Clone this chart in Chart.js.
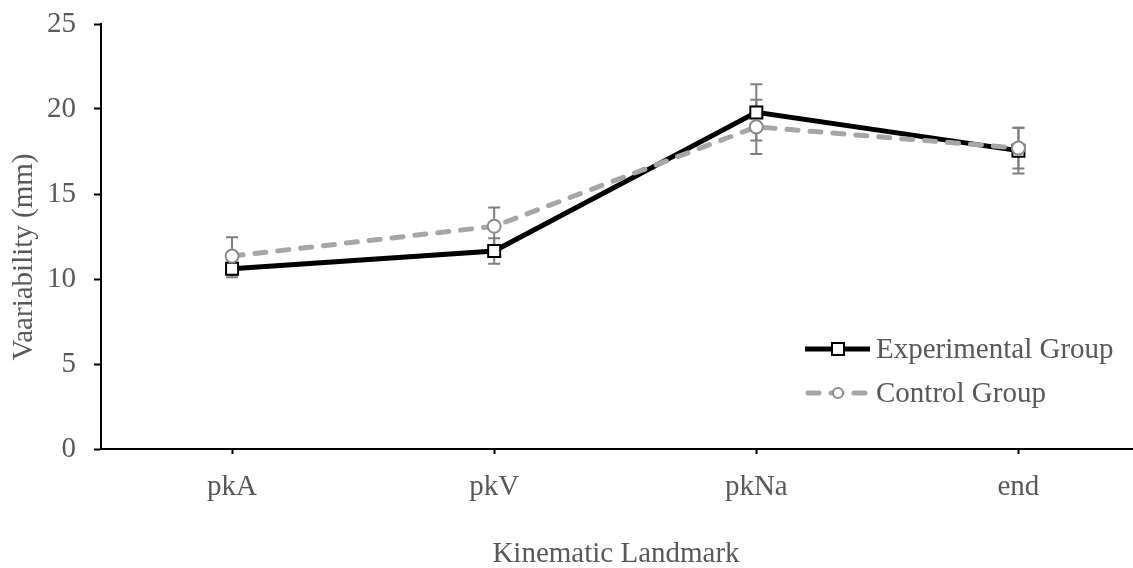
<!DOCTYPE html>
<html>
<head>
<meta charset="utf-8">
<script src="https://cdn.jsdelivr.net/npm/chart.js@4"></script>
<style>
  html, body { margin: 0; padding: 0; background: #fff; overflow: hidden; }
  #wrap { width: 1160px; height: 568px; }
</style>
</head>
<body>
<div id="wrap"><canvas id="chart"></canvas></div>
<script>
// ---- Data ----
const landmarks = ['pkA', 'pkV', 'pkNa', 'end'];
const experimental = [10.6, 11.65, 19.8, 17.55];
const experimentalErr = [0.5, 0.75, 1.65, 1.35];
const control = [11.35, 13.1, 18.95, 17.7];
const controlErr = [1.1, 1.1, 1.6, 1.2];
const yTicks = [0, 5, 10, 15, 20, 25];

const FONT = '"Liberation Serif", "Times New Roman", serif';
const TEXT = '#595959';

// ---- Error bars (drawn under the lines) ----
const errorBars = {
    id: 'errorBars',
    beforeDatasetsDraw(chart) {
        const { ctx, scales: { x, y } } = chart;
        ctx.save();
        ctx.strokeStyle = '#7f7f7f';
        ctx.lineWidth = 2;
        chart.data.datasets.forEach(ds => {
            ds.values.forEach((v, i) => {
                const px = x.getPixelForValue(i);
                const top = y.getPixelForValue(v + ds.err[i]);
                const bot = y.getPixelForValue(v - ds.err[i]);
                ctx.beginPath();
                ctx.moveTo(px, top); ctx.lineTo(px, bot);
                ctx.moveTo(px - 6, top); ctx.lineTo(px + 6, top);
                ctx.moveTo(px - 6, bot); ctx.lineTo(px + 6, bot);
                ctx.stroke();
            });
        });
        ctx.restore();
    }
};

// ---- Legend inside plot + axis titles ----
const extras = {
    id: 'extras',
    afterDraw(chart) {
        const { ctx } = chart;
        ctx.save();
        ctx.font = '29px ' + FONT;
        ctx.fillStyle = TEXT;

        // legend, experimental first
        const rows = [chart.data.datasets[1], chart.data.datasets[0]];
        rows.forEach((ds, k) => {
            const cy = 349 + k * 44;
            ctx.save();
            ctx.strokeStyle = ds.borderColor;
            ctx.lineWidth = ds.borderWidth;
            ctx.lineCap = ds.borderCapStyle || 'butt';
            ctx.setLineDash(ds.legendDash || []);
            ctx.beginPath();
            ctx.moveTo(ds.legendDash ? 808 : 805, cy);
            ctx.lineTo(ds.legendDash ? 867 : 870, cy);
            ctx.stroke();
            ctx.restore();
            ctx.save();
            ctx.fillStyle = '#fff';
            ctx.strokeStyle = ds.pointBorderColor;
            ctx.lineWidth = 2;
            ctx.beginPath();
            if (ds.pointStyle === 'rect') {
                ctx.rect(832, cy - 6, 12, 12);
            } else {
                ctx.arc(838, cy, 5, 0, Math.PI * 2);
            }
            ctx.fill();
            ctx.stroke();
            ctx.restore();
            ctx.textBaseline = 'middle';
            ctx.textAlign = 'left';
            ctx.fillText(ds.label, 876, cy + 1);
        });

        // axis titles
        ctx.textAlign = 'center';
        ctx.textBaseline = 'middle';
        ctx.fillText('Kinematic Landmark', 616, 554);
        ctx.translate(24, 257);
        ctx.rotate(-Math.PI / 2);
        ctx.fillText('Vaariability (mm)', 0, 0);
        ctx.restore();
    }
};

// ---- Config ----
const config = {
    type: 'line',
    data: {
        labels: landmarks,
        datasets: [
            {
                label: 'Control Group',
                data: control,
                values: control,
                err: controlErr,
                borderColor: '#a6a6a6',
                borderWidth: 5,
                borderDash: [11, 12],
                borderCapStyle: 'round',
                legendDash: [11, 12],
                pointStyle: 'circle',
                pointRadius: 6.5,
                pointBorderWidth: 2,
                pointBorderColor: '#8c8c8c',
                pointBackgroundColor: '#fff',
                tension: 0,
                order: 0
            },
            {
                label: 'Experimental Group',
                data: experimental,
                values: experimental,
                err: experimentalErr,
                borderColor: '#000',
                borderWidth: 5,
                pointStyle: 'rect',
                pointRadius: 8.5,
                pointBorderWidth: 2,
                pointBorderColor: '#000',
                pointBackgroundColor: '#fff',
                tension: 0,
                order: 1
            }
        ]
    },
    options: {
        responsive: true,
        maintainAspectRatio: false,
        animation: false,
        layout: { padding: { left: 48, right: 0, top: 24, bottom: 59 } },
        plugins: {
            legend: { display: false },
            tooltip: { enabled: false }
        },
        scales: {
            x: {
                offset: true,
                afterFit: (axis) => {
                    axis.height = 60;
                    axis.paddingLeft = 0;
                    axis.paddingRight = 0;
                },
                grid: {
                    offset: false,
                    drawOnChartArea: false,
                    tickLength: 5,
                    tickWidth: 2,
                    tickColor: '#000'
                },
                border: { color: '#000', width: 2 },
                ticks: { color: TEXT, font: { family: FONT, size: 29 }, padding: 16 }
            },
            y: {
                min: 0,
                max: 25,
                afterBuildTicks: (axis) => { axis.ticks = yTicks.map(v => ({ value: v })); },
                afterFit: (axis) => {
                    axis.width = 53;
                    axis.paddingTop = 0;
                    axis.paddingBottom = 0;
                },
                grid: {
                    drawOnChartArea: false,
                    tickLength: 7,
                    tickWidth: 2,
                    tickColor: '#000'
                },
                border: { color: '#000', width: 2 },
                ticks: { color: TEXT, font: { family: FONT, size: 29 }, padding: 18 }
            }
        }
    },
    plugins: [errorBars, extras]
};

new Chart(document.getElementById('chart').getContext('2d'), config);
</script>
</body>
</html>
